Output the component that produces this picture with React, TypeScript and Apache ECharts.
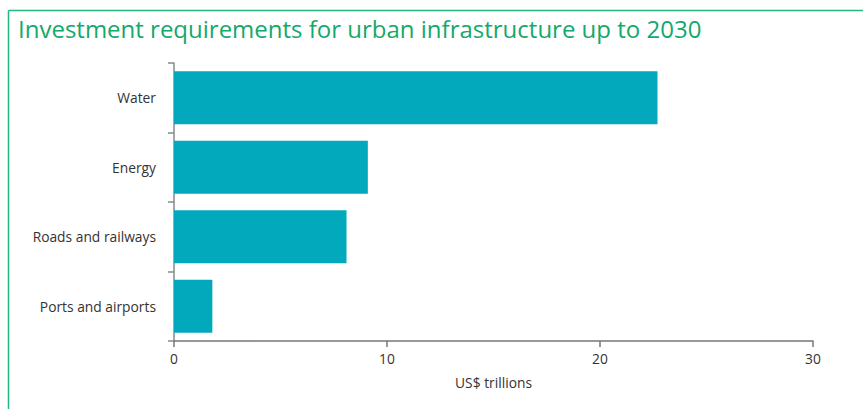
import React, { useEffect, useRef } from "react";
import * as echarts from "echarts";

const categories = ["Ports and airports", "Roads and railways", "Energy", "Water"];
const values = [1.8, 8.1, 9.1, 22.7];
const xTicks = [0, 10, 20, 30];
const titleText = "Investment requirements for urban infrastructure up to 2030";
const axisName = "US$ trillions";

export default function App() {
  const ref = useRef<HTMLDivElement>(null);
  useEffect(() => {
    const chart = echarts.init(ref.current!, null, { renderer: "svg" });
    chart.setOption({
      animation: false,
      backgroundColor: "#fff",
      textStyle: { fontFamily: "Open Sans" },
      title: {
        text: titleText,
        left: 13,
        top: 11,
        textStyle: { color: "#13A96B", fontSize: 24, fontWeight: "normal", fontFamily: "Open Sans" },
      },
      graphic: [
        { type: "line", shape: { x1: 8.5, y1: 409, x2: 8.5, y2: 10.5 }, style: { stroke: "#22B77C", lineWidth: 1.5 } },
        { type: "line", shape: { x1: 8.5, y1: 10.5, x2: 863, y2: 10.5 }, style: { stroke: "#22B77C", lineWidth: 1.5 } },
      ],
      grid: { left: 174, right: 50, top: 63, bottom: 68, containLabel: false },
      xAxis: {
        type: "value",
        min: xTicks[0],
        max: xTicks[xTicks.length - 1],
        interval: 10,
        name: axisName,
        nameLocation: "middle",
        nameGap: 34,
        nameTextStyle: { color: "#333", fontSize: 13.8 },
        axisLine: { show: true, lineStyle: { color: "#777", width: 1.5 } },
        axisTick: { show: true, length: 6, lineStyle: { color: "#777", width: 1.5 } },
        axisLabel: { color: "#333", fontSize: 13.8, margin: 10 },
        splitLine: { show: false },
      },
      yAxis: {
        type: "category",
        data: categories,
        axisLine: { show: true, lineStyle: { color: "#888", width: 1.5 } },
        axisTick: { show: true, length: 6, alignWithLabel: false, lineStyle: { color: "#888", width: 1.5 } },
        axisLabel: { color: "#333", fontSize: 13.8, margin: 18 },
      },
      series: [
        {
          type: "bar",
          data: values,
          barCategoryGap: "24%",
          itemStyle: { color: "#02A9BC" },
        },
      ],
    });
    return () => chart.dispose();
  }, []);
  return (
    <div
      ref={ref}
      style={{ position: "fixed", left: 0, top: 0, width: 863, height: 409 }}
    />
  );
}
